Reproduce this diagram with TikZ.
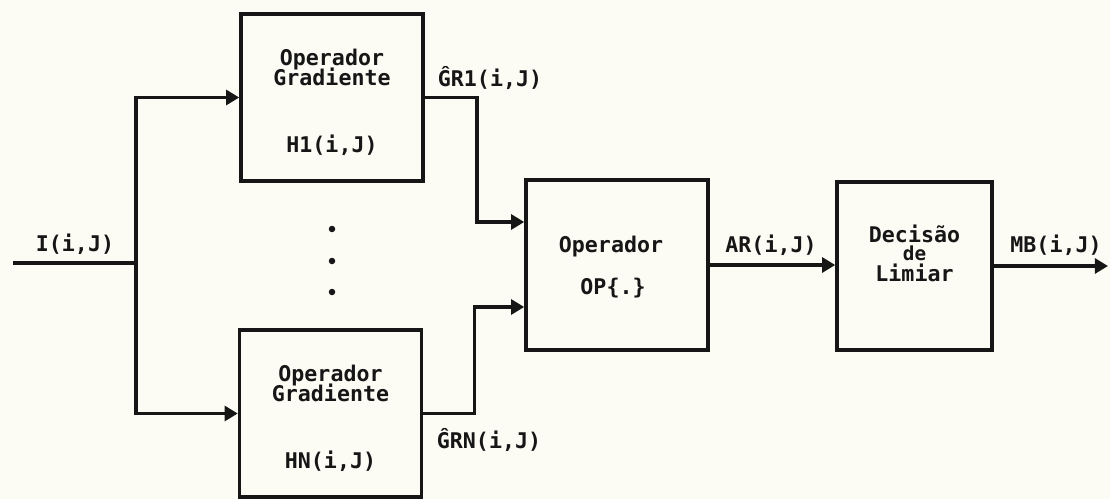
\documentclass[tikz,border=0pt]{standalone}
\usepackage{fontspec}
\setmonofont{DejaVu Sans Mono}
\usepackage{xcolor}
\definecolor{paper}{RGB}{252,251,244}
\definecolor{ink}{RGB}{22,22,22}
\usepackage{tikz}
\usetikzlibrary{arrows.meta,calc}

\begin{document}
\begin{tikzpicture}[line width=2pt, color=ink,
  every node/.style={color=ink, font=\ttfamily\bfseries\fontsize{12.3}{10}\selectfont, inner sep=0pt},
  blk/.style={draw, line width=2pt, minimum width=3.64cm, minimum height=3.34cm},
  flow/.style={-{Triangle[length=7.5pt,width=8.5pt]}}]
  \fill[paper] (0,0) rectangle (22.2,9.98);
  \useasboundingbox (0,0) rectangle (22.2,9.98);
  \node[blk] (g1) at (6.64,8.03) {};
  \node[blk] (gN) at (6.61,1.71) {};
  \node[blk, minimum height=3.40cm] (op) at (12.34,4.68) {};
  \node[blk, minimum width=3.10cm, minimum height=3.36cm] (dec) at (18.29,4.66) {};
  \node (g1a) at ([yshift=0.75cm]g1.center) {Operador};
  \node (g1b) at ([yshift=0.41cm]g1.center) {Gradiente};
  \node (g1c) at ([yshift=-0.95cm]g1.center) {H1(i,J)};
  \node (gNa) at ([yshift=0.75cm]gN.center) {Operador};
  \node (gNb) at ([yshift=0.41cm]gN.center) {Gradiente};
  \node (gNc) at ([yshift=-0.95cm]gN.center) {HN(i,J)};
  \node (opa) at ($(op.center)+(-0.12,0.36)$) {Operador};
  \node (opb) at ($(op.center)+(-0.08,-0.46)$) {OP\{.\}};
  \node (deca) at ([yshift=0.64cm]dec.center) {Decisão};
  \node[font=\ttfamily\bfseries\fontsize{11}{10}\selectfont] (decb) at ([yshift=0.25cm]dec.center) {de};
  \node (decc) at ([yshift=-0.13cm]dec.center) {Limiar};
  \coordinate (in) at (0.26,4.72);
  \coordinate (jn) at (2.72,4.72);
  \coordinate (out) at (22.16,4.66);
  \draw (in) -- (jn);
  \draw[flow] (jn) |- (g1.west);
  \draw[flow] (jn) |- (gN.west);
  \draw[flow] (g1.east) -- ++(1.04,0) |- ($(op.west)+(0,0.86)$);
  \draw[flow] (gN.east) -- ++(1.02,0) |- ($(op.west)+(0,-0.84)$);
  \draw[flow] (op.east) -- (op.east -| dec.west);
  \draw[flow] (dec.east) -- (out);
  \node (inlbl) at (1.50,5.10) {I(i,J)};
  \node (gr1) at (9.80,8.42) {ĜR1(i,J)};
  \node (grn) at (9.78,1.18) {ĜRN(i,J)};
  \node (ar) at (15.42,5.08) {AR(i,J)};
  \node (mb) at (21.12,5.08) {MB(i,J)};
  \foreach \y in {5.40,4.76,4.14}
    \fill (6.64,\y) circle (0.065);
\end{tikzpicture}
\end{document}
